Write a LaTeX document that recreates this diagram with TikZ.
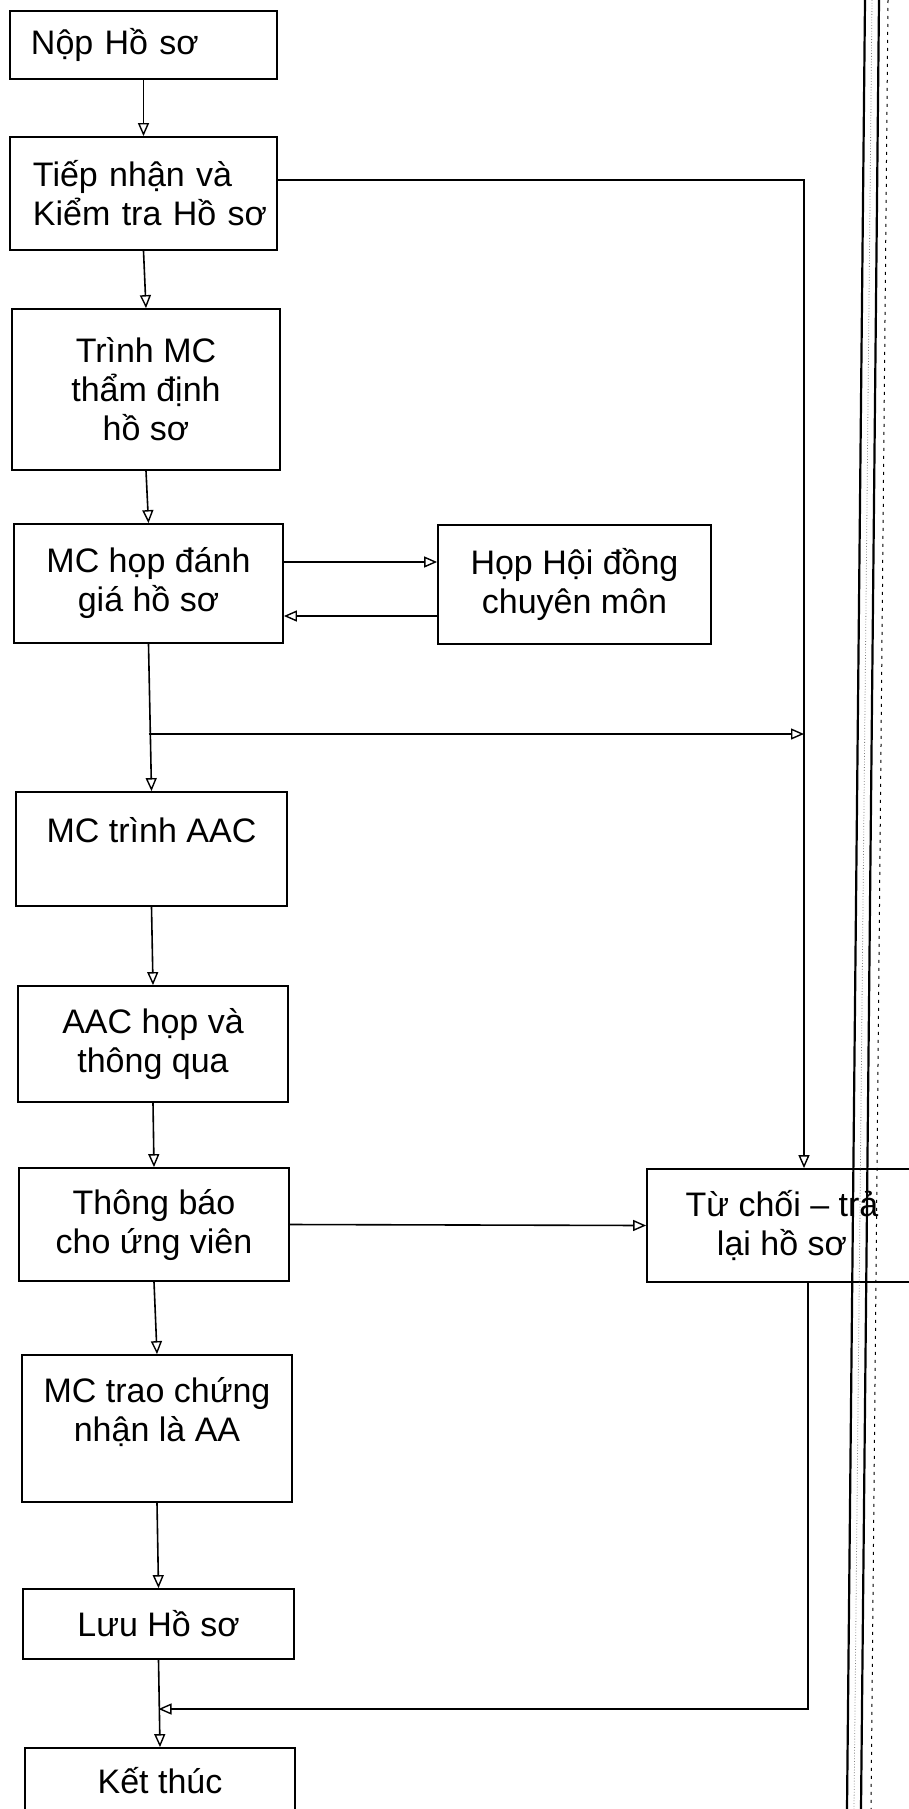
\documentclass[tikz,border=0pt]{standalone}
\usepackage{fontspec}
\setmainfont{Liberation Sans}
\usetikzlibrary{arrows.meta}
\begin{document}
\begin{tikzpicture}[x=1pt,y=-1pt,
  box/.style={draw, line width=1.8pt, inner sep=0pt, align=center,
    font=\fontsize{34pt}{39pt}\selectfont, anchor=center},
  lbox/.style={box, align=left, inner xsep=6pt, inner ysep=0pt, text width=255pt},
  conn/.style={line width=1.6pt},
  arr/.style={conn, -{Triangle[open,length=13pt,width=11pt,line width=1.4pt]}},
  scanline/.style={line width=2.2pt, black}
]
\useasboundingbox (0,0) rectangle (908,1809);
\fill[white] (0,0) rectangle (908,1809);

\node[lbox, minimum height=68pt] (n1) at (143.5,45) {\hspace*{15pt}Nộp Hồ sơ};
\node[lbox, minimum height=113pt] (n2) at (143.5,193.5) {\hspace*{17pt}Tiếp nhận và\\\hspace*{17pt}Kiểm tra Hồ sơ};
\node[box, minimum width=268pt, minimum height=161pt] (n3) at (146,389.5) {Trình MC\\thẩm định\\hồ sơ};
\node[box, minimum width=269pt, minimum height=119pt] (n4) at (148.5,583.5) {MC họp đánh\\giá hồ sơ};
\node[box, minimum width=273pt, minimum height=119pt] (n5) at (574.5,584.5) {Họp Hội đồng\\chuyên môn};
\node[box, minimum width=271pt, minimum height=114pt] (n6) at (151.5,849) {MC trình AAC\\\mbox{}};
\node[box, minimum width=270pt, minimum height=116pt] (n7) at (153,1044) {AAC họp và\\thông qua};
\node[box, minimum width=270pt, minimum height=113pt] (n8) at (154,1224.5) {Thông báo\\cho ứng viên};
\node[box, minimum width=270pt, minimum height=113pt] (n9) at (782,1225.5) {Từ chối – trả\\lại hồ sơ};
\node[box, minimum width=270pt, minimum height=147pt] (n10) at (157,1428.5) {MC trao chứng\\nhận là AA\\\mbox{}};
\node[box, minimum width=271pt, minimum height=70pt] (n11) at (158.5,1624) {Lưu Hồ sơ};
\node[box, minimum width=270pt, minimum height=66pt] (n12) at (160,1781) {Kết thúc};

\coordinate (rc) at ([xshift=22pt]n9.north);
\coordinate (ry) at (0,180);
\coordinate (by) at (0,734);
\coordinate (my) at (0,1709);

\draw[arr] (n1.south) -- (n2.north);
\draw[arr] (n2.south) -- (n3.north);
\draw[arr] (n3.south) -- (n4.north);
\draw[arr] ([yshift=21.5pt]n4.east) -- ([yshift=21.5pt]n4.east -| n5.west);
\draw[arr] ([yshift=-31.5pt]n5.west) -- ([yshift=-31.5pt]n5.west -| n4.east);
\draw[arr] (n4.south) -- (n6.north);
\draw[arr] (n4.south |- by) -- (rc |- by);
\draw[arr] (n2.east |- ry) -- (rc |- ry) -- (rc);
\draw[arr] (n6.south) -- (n7.north);
\draw[arr] (n7.south) -- (n8.north);
\draw[arr] (n8.east) -- (n9.west);
\draw[arr] (n8.south) -- (n10.north);
\draw[arr] (n10.south) -- (n11.north);
\draw[arr] (n11.south) -- (n12.north);
\draw[arr] ([xshift=26pt]n9.south) |- (n11.south |- my);

% scanned page edge
\draw[scanline] (865,0) -- (847,1809);
\draw[scanline] (879,0) -- (861,1809);
\draw[line width=0.8pt, gray, dotted] (872,0) -- (854,1809);
\draw[line width=1pt, dashed, dash pattern=on 3pt off 5pt] (888,0) -- (871,1809);
\end{tikzpicture}
\end{document}
